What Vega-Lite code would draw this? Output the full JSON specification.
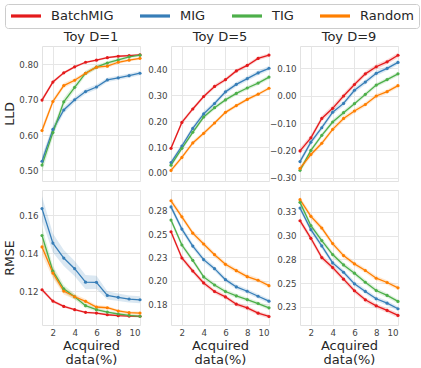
{
"$schema": "https://vega.github.io/schema/vega-lite/v6.json",
"autosize": {"type": "pad"},
"padding": {"left": 3, "top": 3, "right": 0, "bottom": 0},
"background": "white",
"datasets": {
"d1lld": [
{"s":"BatchMIG","x":1,"v":0.699,"e":0.007},{"s":"BatchMIG","x":2,"v":0.750,"e":0.005},{"s":"BatchMIG","x":3,"v":0.776,"e":0.004},{"s":"BatchMIG","x":4,"v":0.793,"e":0.004},{"s":"BatchMIG","x":5,"v":0.806,"e":0.003},{"s":"BatchMIG","x":6,"v":0.812,"e":0.003},{"s":"BatchMIG","x":7,"v":0.819,"e":0.003},{"s":"BatchMIG","x":8,"v":0.823,"e":0.003},{"s":"BatchMIG","x":9,"v":0.825,"e":0.003},{"s":"BatchMIG","x":10,"v":0.827,"e":0.003},
{"s":"MIG","x":1,"v":0.526,"e":0.016},{"s":"MIG","x":2,"v":0.616,"e":0.012},{"s":"MIG","x":3,"v":0.671,"e":0.009},{"s":"MIG","x":4,"v":0.700,"e":0.008},{"s":"MIG","x":5,"v":0.723,"e":0.007},{"s":"MIG","x":6,"v":0.736,"e":0.007},{"s":"MIG","x":7,"v":0.756,"e":0.006},{"s":"MIG","x":8,"v":0.762,"e":0.006},{"s":"MIG","x":9,"v":0.768,"e":0.006},{"s":"MIG","x":10,"v":0.775,"e":0.006},
{"s":"TIG","x":1,"v":0.515,"e":0.020},{"s":"TIG","x":2,"v":0.607,"e":0.014},{"s":"TIG","x":3,"v":0.694,"e":0.011},{"s":"TIG","x":4,"v":0.735,"e":0.009},{"s":"TIG","x":5,"v":0.775,"e":0.007},{"s":"TIG","x":6,"v":0.792,"e":0.006},{"s":"TIG","x":7,"v":0.804,"e":0.005},{"s":"TIG","x":8,"v":0.813,"e":0.005},{"s":"TIG","x":9,"v":0.821,"e":0.004},{"s":"TIG","x":10,"v":0.826,"e":0.004},
{"s":"Random","x":1,"v":0.613,"e":0.012},{"s":"Random","x":2,"v":0.695,"e":0.008},{"s":"Random","x":3,"v":0.740,"e":0.007},{"s":"Random","x":4,"v":0.755,"e":0.006},{"s":"Random","x":5,"v":0.775,"e":0.005},{"s":"Random","x":6,"v":0.792,"e":0.005},{"s":"Random","x":7,"v":0.795,"e":0.005},{"s":"Random","x":8,"v":0.806,"e":0.004},{"s":"Random","x":9,"v":0.812,"e":0.004},{"s":"Random","x":10,"v":0.817,"e":0.004}
],
"d5lld": [
{"s":"BatchMIG","x":1,"v":0.095,"e":0.009},{"s":"BatchMIG","x":2,"v":0.195,"e":0.008},{"s":"BatchMIG","x":3,"v":0.247,"e":0.008},{"s":"BatchMIG","x":4,"v":0.295,"e":0.008},{"s":"BatchMIG","x":5,"v":0.334,"e":0.008},{"s":"BatchMIG","x":6,"v":0.360,"e":0.007},{"s":"BatchMIG","x":7,"v":0.394,"e":0.007},{"s":"BatchMIG","x":8,"v":0.415,"e":0.007},{"s":"BatchMIG","x":9,"v":0.442,"e":0.007},{"s":"BatchMIG","x":10,"v":0.455,"e":0.007},
{"s":"MIG","x":1,"v":0.040,"e":0.010},{"s":"MIG","x":2,"v":0.104,"e":0.010},{"s":"MIG","x":3,"v":0.172,"e":0.010},{"s":"MIG","x":4,"v":0.228,"e":0.010},{"s":"MIG","x":5,"v":0.268,"e":0.010},{"s":"MIG","x":6,"v":0.313,"e":0.009},{"s":"MIG","x":7,"v":0.342,"e":0.009},{"s":"MIG","x":8,"v":0.364,"e":0.009},{"s":"MIG","x":9,"v":0.386,"e":0.009},{"s":"MIG","x":10,"v":0.404,"e":0.009},
{"s":"TIG","x":1,"v":0.030,"e":0.009},{"s":"TIG","x":2,"v":0.095,"e":0.009},{"s":"TIG","x":3,"v":0.157,"e":0.009},{"s":"TIG","x":4,"v":0.216,"e":0.009},{"s":"TIG","x":5,"v":0.252,"e":0.008},{"s":"TIG","x":6,"v":0.282,"e":0.008},{"s":"TIG","x":7,"v":0.307,"e":0.008},{"s":"TIG","x":8,"v":0.328,"e":0.008},{"s":"TIG","x":9,"v":0.347,"e":0.008},{"s":"TIG","x":10,"v":0.370,"e":0.008},
{"s":"Random","x":1,"v":0.010,"e":0.009},{"s":"Random","x":2,"v":0.060,"e":0.008},{"s":"Random","x":3,"v":0.116,"e":0.008},{"s":"Random","x":4,"v":0.153,"e":0.008},{"s":"Random","x":5,"v":0.193,"e":0.008},{"s":"Random","x":6,"v":0.234,"e":0.007},{"s":"Random","x":7,"v":0.260,"e":0.007},{"s":"Random","x":8,"v":0.284,"e":0.007},{"s":"Random","x":9,"v":0.304,"e":0.007},{"s":"Random","x":10,"v":0.327,"e":0.007}
],
"d9lld": [
{"s":"BatchMIG","x":1,"v":-0.202,"e":0.011},{"s":"BatchMIG","x":2,"v":-0.154,"e":0.010},{"s":"BatchMIG","x":3,"v":-0.083,"e":0.010},{"s":"BatchMIG","x":4,"v":-0.046,"e":0.010},{"s":"BatchMIG","x":5,"v":-0.001,"e":0.010},{"s":"BatchMIG","x":6,"v":0.041,"e":0.009},{"s":"BatchMIG","x":7,"v":0.080,"e":0.009},{"s":"BatchMIG","x":8,"v":0.106,"e":0.009},{"s":"BatchMIG","x":9,"v":0.124,"e":0.009},{"s":"BatchMIG","x":10,"v":0.148,"e":0.009},
{"s":"MIG","x":1,"v":-0.241,"e":0.011},{"s":"MIG","x":2,"v":-0.170,"e":0.010},{"s":"MIG","x":3,"v":-0.117,"e":0.010},{"s":"MIG","x":4,"v":-0.060,"e":0.010},{"s":"MIG","x":5,"v":-0.028,"e":0.010},{"s":"MIG","x":6,"v":0.020,"e":0.010},{"s":"MIG","x":7,"v":0.050,"e":0.009},{"s":"MIG","x":8,"v":0.082,"e":0.009},{"s":"MIG","x":9,"v":0.100,"e":0.009},{"s":"MIG","x":10,"v":0.122,"e":0.009},
{"s":"TIG","x":1,"v":-0.273,"e":0.010},{"s":"TIG","x":2,"v":-0.200,"e":0.009},{"s":"TIG","x":3,"v":-0.145,"e":0.009},{"s":"TIG","x":4,"v":-0.096,"e":0.009},{"s":"TIG","x":5,"v":-0.062,"e":0.009},{"s":"TIG","x":6,"v":-0.029,"e":0.008},{"s":"TIG","x":7,"v":0.005,"e":0.008},{"s":"TIG","x":8,"v":0.039,"e":0.008},{"s":"TIG","x":9,"v":0.059,"e":0.008},{"s":"TIG","x":10,"v":0.080,"e":0.008},
{"s":"Random","x":1,"v":-0.266,"e":0.010},{"s":"Random","x":2,"v":-0.215,"e":0.009},{"s":"Random","x":3,"v":-0.174,"e":0.009},{"s":"Random","x":4,"v":-0.123,"e":0.009},{"s":"Random","x":5,"v":-0.083,"e":0.009},{"s":"Random","x":6,"v":-0.056,"e":0.008},{"s":"Random","x":7,"v":-0.032,"e":0.008},{"s":"Random","x":8,"v":-0.001,"e":0.008},{"s":"Random","x":9,"v":0.015,"e":0.008},{"s":"Random","x":10,"v":0.037,"e":0.008}
],
"d1rmse": [
{"s":"BatchMIG","x":1,"v":0.1207,"e":0.0010},{"s":"BatchMIG","x":2,"v":0.1147,"e":0.0008},{"s":"BatchMIG","x":3,"v":0.1119,"e":0.0007},{"s":"BatchMIG","x":4,"v":0.1102,"e":0.0006},{"s":"BatchMIG","x":5,"v":0.1088,"e":0.0006},{"s":"BatchMIG","x":6,"v":0.1084,"e":0.0005},{"s":"BatchMIG","x":7,"v":0.1075,"e":0.0005},{"s":"BatchMIG","x":8,"v":0.1070,"e":0.0005},{"s":"BatchMIG","x":9,"v":0.1068,"e":0.0005},{"s":"BatchMIG","x":10,"v":0.1067,"e":0.0005},
{"s":"MIG","x":1,"v":0.1635,"e":0.0065},{"s":"MIG","x":2,"v":0.1453,"e":0.0050},{"s":"MIG","x":3,"v":0.1374,"e":0.0042},{"s":"MIG","x":4,"v":0.1318,"e":0.0040},{"s":"MIG","x":5,"v":0.1247,"e":0.0038},{"s":"MIG","x":6,"v":0.1246,"e":0.0035},{"s":"MIG","x":7,"v":0.1177,"e":0.0022},{"s":"MIG","x":8,"v":0.1167,"e":0.0020},{"s":"MIG","x":9,"v":0.1158,"e":0.0018},{"s":"MIG","x":10,"v":0.1154,"e":0.0018},
{"s":"TIG","x":1,"v":0.1493,"e":0.0045},{"s":"TIG","x":2,"v":0.1305,"e":0.0030},{"s":"TIG","x":3,"v":0.1212,"e":0.0020},{"s":"TIG","x":4,"v":0.1170,"e":0.0015},{"s":"TIG","x":5,"v":0.1123,"e":0.0012},{"s":"TIG","x":6,"v":0.1102,"e":0.0010},{"s":"TIG","x":7,"v":0.1089,"e":0.0009},{"s":"TIG","x":8,"v":0.1079,"e":0.0008},{"s":"TIG","x":9,"v":0.1072,"e":0.0008},{"s":"TIG","x":10,"v":0.1067,"e":0.0008},
{"s":"Random","x":1,"v":0.1433,"e":0.0040},{"s":"Random","x":2,"v":0.1295,"e":0.0028},{"s":"Random","x":3,"v":0.1200,"e":0.0018},{"s":"Random","x":4,"v":0.1170,"e":0.0014},{"s":"Random","x":5,"v":0.1146,"e":0.0012},{"s":"Random","x":6,"v":0.1116,"e":0.0010},{"s":"Random","x":7,"v":0.1112,"e":0.0009},{"s":"Random","x":8,"v":0.1095,"e":0.0008},{"s":"Random","x":9,"v":0.1086,"e":0.0008},{"s":"Random","x":10,"v":0.1084,"e":0.0008}
],
"d5rmse": [
{"s":"BatchMIG","x":1,"v":0.2525,"e":0.0030},{"s":"BatchMIG","x":2,"v":0.2245,"e":0.0028},{"s":"BatchMIG","x":3,"v":0.2106,"e":0.0026},{"s":"BatchMIG","x":4,"v":0.1979,"e":0.0025},{"s":"BatchMIG","x":5,"v":0.1887,"e":0.0024},{"s":"BatchMIG","x":6,"v":0.1830,"e":0.0023},{"s":"BatchMIG","x":7,"v":0.1752,"e":0.0022},{"s":"BatchMIG","x":8,"v":0.1713,"e":0.0022},{"s":"BatchMIG","x":9,"v":0.1656,"e":0.0021},{"s":"BatchMIG","x":10,"v":0.1621,"e":0.0021},
{"s":"MIG","x":1,"v":0.2790,"e":0.0033},{"s":"MIG","x":2,"v":0.2553,"e":0.0030},{"s":"MIG","x":3,"v":0.2372,"e":0.0029},{"s":"MIG","x":4,"v":0.2227,"e":0.0028},{"s":"MIG","x":5,"v":0.2131,"e":0.0027},{"s":"MIG","x":6,"v":0.2014,"e":0.0026},{"s":"MIG","x":7,"v":0.1936,"e":0.0025},{"s":"MIG","x":8,"v":0.1890,"e":0.0025},{"s":"MIG","x":9,"v":0.1837,"e":0.0024},{"s":"MIG","x":10,"v":0.1784,"e":0.0024},
{"s":"TIG","x":1,"v":0.2649,"e":0.0030},{"s":"TIG","x":2,"v":0.2383,"e":0.0028},{"s":"TIG","x":3,"v":0.2220,"e":0.0027},{"s":"TIG","x":4,"v":0.2043,"e":0.0026},{"s":"TIG","x":5,"v":0.1957,"e":0.0025},{"s":"TIG","x":6,"v":0.1887,"e":0.0024},{"s":"TIG","x":7,"v":0.1840,"e":0.0023},{"s":"TIG","x":8,"v":0.1801,"e":0.0023},{"s":"TIG","x":9,"v":0.1759,"e":0.0022},{"s":"TIG","x":10,"v":0.1713,"e":0.0022},
{"s":"Random","x":1,"v":0.2855,"e":0.0032},{"s":"Random","x":2,"v":0.2684,"e":0.0030},{"s":"Random","x":3,"v":0.2510,"e":0.0029},{"s":"Random","x":4,"v":0.2394,"e":0.0028},{"s":"Random","x":5,"v":0.2280,"e":0.0027},{"s":"Random","x":6,"v":0.2177,"e":0.0026},{"s":"Random","x":7,"v":0.2110,"e":0.0025},{"s":"Random","x":8,"v":0.2046,"e":0.0025},{"s":"Random","x":9,"v":0.2007,"e":0.0024},{"s":"Random","x":10,"v":0.1950,"e":0.0024}
],
"d9rmse": [
{"s":"BatchMIG","x":1,"v":0.3157,"e":0.0032},{"s":"BatchMIG","x":2,"v":0.2972,"e":0.0030},{"s":"BatchMIG","x":3,"v":0.2769,"e":0.0029},{"s":"BatchMIG","x":4,"v":0.2664,"e":0.0028},{"s":"BatchMIG","x":5,"v":0.2542,"e":0.0027},{"s":"BatchMIG","x":6,"v":0.2420,"e":0.0026},{"s":"BatchMIG","x":7,"v":0.2325,"e":0.0025},{"s":"BatchMIG","x":8,"v":0.2262,"e":0.0025},{"s":"BatchMIG","x":9,"v":0.2213,"e":0.0024},{"s":"BatchMIG","x":10,"v":0.2161,"e":0.0024},
{"s":"MIG","x":1,"v":0.3290,"e":0.0032},{"s":"MIG","x":2,"v":0.3063,"e":0.0030},{"s":"MIG","x":3,"v":0.2892,"e":0.0029},{"s":"MIG","x":4,"v":0.2713,"e":0.0028},{"s":"MIG","x":5,"v":0.2615,"e":0.0027},{"s":"MIG","x":6,"v":0.2493,"e":0.0026},{"s":"MIG","x":7,"v":0.2413,"e":0.0025},{"s":"MIG","x":8,"v":0.2336,"e":0.0025},{"s":"MIG","x":9,"v":0.2290,"e":0.0024},{"s":"MIG","x":10,"v":0.2231,"e":0.0024},
{"s":"TIG","x":1,"v":0.3350,"e":0.0032},{"s":"TIG","x":2,"v":0.3105,"e":0.0030},{"s":"TIG","x":3,"v":0.2948,"e":0.0029},{"s":"TIG","x":4,"v":0.2801,"e":0.0028},{"s":"TIG","x":5,"v":0.2692,"e":0.0027},{"s":"TIG","x":6,"v":0.2605,"e":0.0026},{"s":"TIG","x":7,"v":0.2510,"e":0.0025},{"s":"TIG","x":8,"v":0.2423,"e":0.0025},{"s":"TIG","x":9,"v":0.2371,"e":0.0024},{"s":"TIG","x":10,"v":0.2308,"e":0.0024},
{"s":"Random","x":1,"v":0.3378,"e":0.0032},{"s":"Random","x":2,"v":0.3203,"e":0.0030},{"s":"Random","x":3,"v":0.3080,"e":0.0029},{"s":"Random","x":4,"v":0.2916,"e":0.0028},{"s":"Random","x":5,"v":0.2790,"e":0.0027},{"s":"Random","x":6,"v":0.2703,"e":0.0026},{"s":"Random","x":7,"v":0.2633,"e":0.0025},{"s":"Random","x":8,"v":0.2552,"e":0.0025},{"s":"Random","x":9,"v":0.2507,"e":0.0024},{"s":"Random","x":10,"v":0.2451,"e":0.0024}
]
},
"columns": 3,
"spacing": {"row": 9, "column": 31},
"bounds": "flush",
"resolve": {"scale": {"color": "shared"}, "legend": {"color": "shared"}},
"concat": [
{
"width": 98, "height": 135,
"title": "Toy D=1",
"data": {"name": "d1lld"},
"transform": [{"calculate": "datum.v - datum.e", "as": "lo"}, {"calculate": "datum.v + datum.e", "as": "hi"}],
"encoding": {
"x": {"field": "x", "type": "quantitative", "scale": {"domain": [1, 10], "nice": false}, "axis": {"values": [2,4,6,8,10], "labels": false, "title": null}},
"color": {"field": "s", "type": "nominal", "scale": {"domain": ["BatchMIG", "MIG", "TIG", "Random"], "range": ["#e41a1c", "#377eb8", "#4daf4a", "#ff7f00"]}}
},
"layer": [
{"mark": {"type": "area", "opacity": 0.18}, "encoding": {"y": {"field": "lo", "type": "quantitative", "scale": {"domain": [0.47, 0.852], "nice": false, "zero": false}, "axis": {"values": [0.5,0.6,0.7,0.8], "labelExpr": "format(datum.value + 1e-9, '.2f')", "title": "LLD"}}, "y2": {"field": "hi"}}},
{"mark": {"type": "line", "strokeWidth": 1.3}, "encoding": {"y": {"field": "v", "type": "quantitative"}}},
{"mark": {"type": "point", "filled": true, "size": 10, "opacity": 1}, "encoding": {"y": {"field": "v", "type": "quantitative"}}}
]
},
{
"width": 98, "height": 135,
"title": "Toy D=5",
"data": {"name": "d5lld"},
"transform": [{"calculate": "datum.v - datum.e", "as": "lo"}, {"calculate": "datum.v + datum.e", "as": "hi"}],
"encoding": {
"x": {"field": "x", "type": "quantitative", "scale": {"domain": [1, 10], "nice": false}, "axis": {"values": [2,4,6,8,10], "labels": false, "title": null}},
"color": {"field": "s", "type": "nominal", "scale": {"domain": ["BatchMIG", "MIG", "TIG", "Random"], "range": ["#e41a1c", "#377eb8", "#4daf4a", "#ff7f00"]}}
},
"layer": [
{"mark": {"type": "area", "opacity": 0.18}, "encoding": {"y": {"field": "lo", "type": "quantitative", "scale": {"domain": [-0.031, 0.49], "nice": false, "zero": false}, "axis": {"values": [0,0.1,0.2,0.3,0.4], "labelExpr": "format(datum.value + 1e-9, '.2f')", "title": null}}, "y2": {"field": "hi"}}},
{"mark": {"type": "line", "strokeWidth": 1.3}, "encoding": {"y": {"field": "v", "type": "quantitative"}}},
{"mark": {"type": "point", "filled": true, "size": 10, "opacity": 1}, "encoding": {"y": {"field": "v", "type": "quantitative"}}}
]
},
{
"width": 98, "height": 135,
"title": "Toy D=9",
"data": {"name": "d9lld"},
"transform": [{"calculate": "datum.v - datum.e", "as": "lo"}, {"calculate": "datum.v + datum.e", "as": "hi"}],
"encoding": {
"x": {"field": "x", "type": "quantitative", "scale": {"domain": [1, 10], "nice": false}, "axis": {"values": [2,4,6,8,10], "labels": false, "title": null}},
"color": {"field": "s", "type": "nominal", "scale": {"domain": ["BatchMIG", "MIG", "TIG", "Random"], "range": ["#e41a1c", "#377eb8", "#4daf4a", "#ff7f00"]}}
},
"layer": [
{"mark": {"type": "area", "opacity": 0.18}, "encoding": {"y": {"field": "lo", "type": "quantitative", "scale": {"domain": [-0.312, 0.182], "nice": false, "zero": false}, "axis": {"values": [-0.3,-0.2,-0.1,0,0.1], "labelExpr": "format(datum.value + 1e-9, '.2f')", "title": null}}, "y2": {"field": "hi"}}},
{"mark": {"type": "line", "strokeWidth": 1.3}, "encoding": {"y": {"field": "v", "type": "quantitative"}}},
{"mark": {"type": "point", "filled": true, "size": 10, "opacity": 1}, "encoding": {"y": {"field": "v", "type": "quantitative"}}}
]
},
{
"width": 98, "height": 135,
"data": {"name": "d1rmse"},
"transform": [{"calculate": "datum.v - datum.e", "as": "lo"}, {"calculate": "datum.v + datum.e", "as": "hi"}],
"encoding": {
"x": {"field": "x", "type": "quantitative", "scale": {"domain": [1, 10], "nice": false}, "axis": {"values": [2,4,6,8,10], "title": ["Acquired", "data(%)"]}},
"color": {"field": "s", "type": "nominal", "scale": {"domain": ["BatchMIG", "MIG", "TIG", "Random"], "range": ["#e41a1c", "#377eb8", "#4daf4a", "#ff7f00"]}}
},
"layer": [
{"mark": {"type": "area", "opacity": 0.18}, "encoding": {"y": {"field": "lo", "type": "quantitative", "scale": {"domain": [0.1021, 0.1733], "nice": false, "zero": false}, "axis": {"values": [0.12,0.14,0.16], "labelExpr": "format(datum.value + 1e-9, '.2f')", "title": "RMSE"}}, "y2": {"field": "hi"}}},
{"mark": {"type": "line", "strokeWidth": 1.3}, "encoding": {"y": {"field": "v", "type": "quantitative"}}},
{"mark": {"type": "point", "filled": true, "size": 10, "opacity": 1}, "encoding": {"y": {"field": "v", "type": "quantitative"}}}
]
},
{
"width": 98, "height": 135,
"data": {"name": "d5rmse"},
"transform": [{"calculate": "datum.v - datum.e", "as": "lo"}, {"calculate": "datum.v + datum.e", "as": "hi"}],
"encoding": {
"x": {"field": "x", "type": "quantitative", "scale": {"domain": [1, 10], "nice": false}, "axis": {"values": [2,4,6,8,10], "title": ["Acquired", "data(%)"]}},
"color": {"field": "s", "type": "nominal", "scale": {"domain": ["BatchMIG", "MIG", "TIG", "Random"], "range": ["#e41a1c", "#377eb8", "#4daf4a", "#ff7f00"]}}
},
"layer": [
{"mark": {"type": "area", "opacity": 0.18}, "encoding": {"y": {"field": "lo", "type": "quantitative", "scale": {"domain": [0.153, 0.297], "nice": false, "zero": false}, "axis": {"values": [0.175,0.2,0.225,0.25,0.275], "labelExpr": "format(datum.value + 1e-9, '.2f')", "title": null}}, "y2": {"field": "hi"}}},
{"mark": {"type": "line", "strokeWidth": 1.3}, "encoding": {"y": {"field": "v", "type": "quantitative"}}},
{"mark": {"type": "point", "filled": true, "size": 10, "opacity": 1}, "encoding": {"y": {"field": "v", "type": "quantitative"}}}
]
},
{
"width": 98, "height": 135,
"data": {"name": "d9rmse"},
"transform": [{"calculate": "datum.v - datum.e", "as": "lo"}, {"calculate": "datum.v + datum.e", "as": "hi"}],
"encoding": {
"x": {"field": "x", "type": "quantitative", "scale": {"domain": [1, 10], "nice": false}, "axis": {"values": [2,4,6,8,10], "title": ["Acquired", "data(%)"]}},
"color": {"field": "s", "type": "nominal", "scale": {"domain": ["BatchMIG", "MIG", "TIG", "Random"], "range": ["#e41a1c", "#377eb8", "#4daf4a", "#ff7f00"]}}
},
"layer": [
{"mark": {"type": "area", "opacity": 0.18}, "encoding": {"y": {"field": "lo", "type": "quantitative", "scale": {"domain": [0.206, 0.348], "nice": false, "zero": false}, "axis": {"values": [0.225,0.25,0.275,0.3,0.325], "labelExpr": "format(datum.value + 1e-9, '.2f')", "title": null}}, "y2": {"field": "hi"}}},
{"mark": {"type": "line", "strokeWidth": 1.3}, "encoding": {"y": {"field": "v", "type": "quantitative"}}},
{"mark": {"type": "point", "filled": true, "size": 10, "opacity": 1}, "encoding": {"y": {"field": "v", "type": "quantitative"}}}
]
}
],
"config": {
"font": "DejaVu Sans",
"view": {"stroke": "#e2e2e2", "strokeWidth": 1},
"title": {"fontSize": 13, "fontWeight": "normal", "font": "DejaVu Sans", "color": "#262626", "offset": 2},
"axis": {"grid": true, "gridColor": "#e6e6e6", "gridWidth": 1, "domain": false, "ticks": false, "tickCount": 12, "labelOverlap": false, "labelFont": "DejaVu Sans", "labelFontSize": 8.7, "labelColor": "#444444", "labelPadding": 4, "titleFont": "DejaVu Sans", "titleFontWeight": "normal", "titleColor": "#262626"},
"axisX": {"labelPadding": 3, "titleFontSize": 13, "titlePadding": 3, "titleLineHeight": 14},
"axisY": {"titleFontSize": 12.5, "titlePadding": 2},
"legend": {"orient": "none", "legendX": -37, "legendY": -42, "direction": "horizontal", "columns": 4, "title": null, "symbolType": "M-1.2,0H4.8", "symbolSize": 100, "symbolStrokeWidth": 3.2, "symbolOpacity": 1, "labelFontSize": 13, "labelFont": "DejaVu Sans", "labelColor": "#262626", "labelOffset": 27, "columnPadding": 19, "padding": 5, "strokeColor": "#cccccc", "cornerRadius": 3, "fillColor": "white"}
}
}
